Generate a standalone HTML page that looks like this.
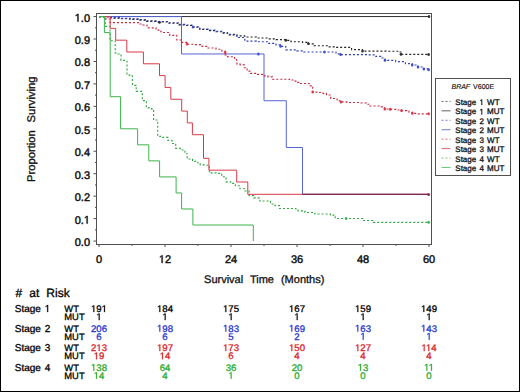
<!DOCTYPE html>
<html><head><meta charset="utf-8"><style>
html,body{margin:0;padding:0;background:#fff;}
body{width:520px;height:392px;overflow:hidden;position:relative;}
.frame{position:absolute;left:0;top:0;width:518px;height:390px;border:1px solid #000;}
svg{position:absolute;left:0;top:0;font-family:"Liberation Sans",sans-serif;text-rendering:geometricPrecision;}
</style></head><body><div class="frame"></div>
<svg width="520" height="392" viewBox="0 0 520 392">
<rect x="96.5" y="13.5" width="335" height="231" fill="none" stroke="#505050" stroke-width="1"/>
<path d="M93.5,241.05H96.5 M95,229.83H96.5 M93.5,218.60H96.5 M95,207.38H96.5 M93.5,196.15H96.5 M95,184.93H96.5 M93.5,173.70H96.5 M95,162.48H96.5 M93.5,151.25H96.5 M95,140.03H96.5 M93.5,128.80H96.5 M95,117.58H96.5 M93.5,106.35H96.5 M95,95.12H96.5 M93.5,83.90H96.5 M95,72.68H96.5 M93.5,61.45H96.5 M95,50.22H96.5 M93.5,39.00H96.5 M95,27.78H96.5 M93.5,16.55H96.5 M99.0,244.5V247 M132.0,244.5V246 M165.0,244.5V247 M198.0,244.5V246 M231.0,244.5V247 M264.0,244.5V246 M297.0,244.5V247 M330.0,244.5V246 M363.0,244.5V247 M396.0,244.5V246 M429.0,244.5V247" stroke="#505050" stroke-width="1" fill="none"/>
<text x="74.71" y="246.05" font-size="11" fill="#111" stroke="#111" stroke-width="0.45">0.0</text><text x="74.71" y="223.60" font-size="11" fill="#111" stroke="#111" stroke-width="0.45">0.</text><path d="M515,0L515,-1237L197,-1010L197,-1180L530,-1409L696,-1409L696,0Z" transform="translate(83.88,223.60) scale(0.005371)" fill="#111" stroke="#111" stroke-width="83.8"/><text x="74.71" y="201.15" font-size="11" fill="#111" stroke="#111" stroke-width="0.45">0.2</text><text x="74.71" y="178.70" font-size="11" fill="#111" stroke="#111" stroke-width="0.45">0.3</text><text x="74.71" y="156.25" font-size="11" fill="#111" stroke="#111" stroke-width="0.45">0.4</text><text x="74.71" y="133.80" font-size="11" fill="#111" stroke="#111" stroke-width="0.45">0.5</text><text x="74.71" y="111.35" font-size="11" fill="#111" stroke="#111" stroke-width="0.45">0.6</text><text x="74.71" y="88.90" font-size="11" fill="#111" stroke="#111" stroke-width="0.45">0.7</text><text x="74.71" y="66.45" font-size="11" fill="#111" stroke="#111" stroke-width="0.45">0.8</text><text x="74.71" y="44.00" font-size="11" fill="#111" stroke="#111" stroke-width="0.45">0.9</text><path d="M515,0L515,-1237L197,-1010L197,-1180L530,-1409L696,-1409L696,0Z" transform="translate(74.71,21.55) scale(0.005371)" fill="#111" stroke="#111" stroke-width="83.8"/><text x="80.83" y="21.55" font-size="11" fill="#111" stroke="#111" stroke-width="0.45">.0</text><text x="95.94" y="263.00" font-size="11" fill="#111" stroke="#111" stroke-width="0.45">0</text><path d="M515,0L515,-1237L197,-1010L197,-1180L530,-1409L696,-1409L696,0Z" transform="translate(158.88,263.00) scale(0.005371)" fill="#111" stroke="#111" stroke-width="83.8"/><text x="165.00" y="263.00" font-size="11" fill="#111" stroke="#111" stroke-width="0.45">2</text><text x="224.88" y="263.00" font-size="11" fill="#111" stroke="#111" stroke-width="0.45">24</text><text x="290.88" y="263.00" font-size="11" fill="#111" stroke="#111" stroke-width="0.45">36</text><text x="356.88" y="263.00" font-size="11" fill="#111" stroke="#111" stroke-width="0.45">48</text><text x="422.88" y="263.00" font-size="11" fill="#111" stroke="#111" stroke-width="0.45">60</text>
<text x="204.06" y="282.60" font-size="11" fill="#111" stroke="#111" stroke-width="0.3">Survival</text><text x="249.95" y="282.60" font-size="11" fill="#111" stroke="#111" stroke-width="0.3">Time</text><text x="280.94" y="282.60" font-size="11" fill="#111" stroke="#111" stroke-width="0.3">(Months)</text>
<g transform="translate(34.8,129.2) rotate(-90)"><text x="-52.72" y="0.00" font-size="11.2" fill="#111" stroke="#111" stroke-width="0.3">Proportion</text><text x="6.66" y="0.00" font-size="11.2" fill="#111" stroke="#111" stroke-width="0.3">Surviving</text></g>
<path d="M99.0,16.55 H110.0 V16.55 H111.0 V18.10 H120.0 V18.70 H130.0 V19.30 H140.0 V20.10 H145.4 V21.40 H156.0 V22.00 H167.5 V23.20 H179.0 V24.90 H186.0 V25.50 H193.0 V27.20 H199.8 V29.50 H208.0 V30.60 H216.0 V31.70 H222.0 V33.10 H227.5 V34.90 H236.8 V35.90 H244.8 V37.00 H256.4 V38.00 H268.0 V38.80 H276.0 V39.60 H285.8 V40.30 H291.0 V41.70 H302.5 V42.30 H308.3 V43.80 H314.0 V45.70 H328.0 V46.90 H336.0 V47.40 H351.6 V47.40 H351.6 V49.60 H362.5 V51.10 H386.0 V51.20 H398.6 V52.00 H401.0 V54.30 H428.6 V54.50" stroke="#222222" stroke-width="1.15" fill="none" stroke-dasharray="2,2" stroke-dashoffset="0"/>
<path d="M99,16.55 H429" stroke="#303030" stroke-width="1" fill="none"/>
<path d="M99.0,16.55 H110.0 V16.55 H111.0 V17.60 H120.0 V18.20 H130.0 V18.80 H140.0 V19.60 H145.4 V20.90 H156.0 V21.50 H167.5 V22.70 H179.0 V24.40 H186.0 V25.00 H193.0 V26.70 H199.8 V29.00 H208.0 V30.10 H216.0 V31.20 H222.0 V32.60 H227.5 V34.40 H236.8 V37.50 H244.8 V41.10 H256.4 V41.70 H268.0 V43.40 H276.0 V44.90 H280.6 V46.30 H285.8 V49.80 H296.8 V50.90 H303.7 V52.00 H324.4 V52.00 H336.0 V53.80 H340.6 V54.60 H367.0 V54.90 H374.0 V56.30 H382.0 V58.00 H385.0 V60.30 H395.7 V61.60 H405.4 V63.60 H412.2 V65.00 H418.0 V67.00 H423.8 V68.90 H428.6 V69.70" stroke="#3040b4" stroke-width="1.15" fill="none" stroke-dasharray="2,2" stroke-dashoffset="0"/>
<path d="M99,16.55 H181.5 V53.97 H264 V100.74 H286.3 V147.51 H302.5 V194.40 H429" stroke="#5565d4" stroke-width="1" fill="none"/>
<path d="M99.0,16.55 H105.5 V16.55 H106.0 V19.00 H110.0 V22.60 H137.3 V22.60 H140.0 V24.00 H143.0 V25.00 H147.0 V27.80 H156.0 V30.10 H160.8 V31.70 H163.0 V32.50 H169.8 V35.30 H176.8 V40.00 H181.4 V42.30 H186.6 V44.20 H194.0 V44.60 H202.0 V46.30 H208.0 V48.00 H216.0 V49.20 H221.8 V51.00 H225.2 V55.00 H227.5 V56.70 H234.5 V58.20 H236.5 V60.20 H237.0 V64.20 H240.2 V64.80 H244.3 V67.70 H247.1 V71.10 H250.6 V73.40 H257.5 V74.40 H263.3 V75.80 H267.9 V76.90 H272.5 V79.20 H289.6 V80.00 H293.0 V81.10 H297.1 V82.30 H298.8 V83.50 H306.9 V83.50 H309.2 V85.80 H312.7 V86.30 H312.7 V92.10 H318.4 V92.50 H323.0 V93.30 H326.5 V95.00 H330.0 V96.70 H330.8 V98.50 H335.4 V99.00 H337.1 V100.80 H341.1 V101.90 H346.9 V102.50 H359.6 V103.00 H366.5 V104.20 H370.0 V106.00 H379.2 V106.80 H382.7 V107.70 H384.8 V109.00 H390.2 V109.30 H396.0 V110.00 H401.5 V110.60 H406.9 V111.10 H409.0 V112.20 H412.3 V113.30 H417.7 V113.80 H428.6 V113.80" stroke="#c42a40" stroke-width="1.15" fill="none" stroke-dasharray="2,2" stroke-dashoffset="0"/>
<path d="M99,16.55 H110.2 V28.37 H115.7 V40.18 H126.8 V52.00 H143.4 V63.81 H159.5 V75.63 H165.1 V87.44 H170.8 V99.26 H181.7 V111.08 H187.3 V122.89 H192.4 V134.71 H203.5 V158.34 H208.9 V170.16 H236.7 V181.97 H247.8 V194.30 H429" stroke="#d83a48" stroke-width="1" fill="none"/>
<path d="M99.0,16.55 H105.3 V16.55 H105.3 V26.30 H110.0 V26.30 H110.0 V40.70 H115.2 V41.60 H115.2 V53.00 H117.0 V54.00 H121.0 V55.00 H121.0 V60.40 H125.9 V61.20 H127.0 V75.10 H132.1 V76.00 H132.5 V85.30 H136.2 V86.30 H136.2 V91.40 H142.3 V93.50 H142.3 V100.60 H146.4 V101.60 H146.4 V107.80 H151.5 V108.80 H153.6 V110.80 H153.6 V120.00 H157.7 V121.00 H157.7 V136.30 H160.7 V137.30 H167.9 V140.40 H172.0 V143.50 H175.7 V145.30 H175.7 V148.40 H180.3 V150.00 H184.9 V153.70 H187.2 V159.00 H192.6 V161.40 H197.9 V163.00 H200.2 V164.90 H205.6 V165.20 H209.4 V172.90 H218.6 V173.30 H221.7 V176.70 H226.1 V181.80 H230.7 V183.40 H235.3 V185.70 H239.9 V188.70 H244.5 V191.00 H249.1 V195.60 H253.7 V197.90 H259.8 V201.00 H269.0 V201.30 H270.5 V204.00 H275.1 V205.60 H279.6 V205.60 H279.6 V208.50 H295.8 V209.00 H298.0 V210.80 H302.7 V211.30 H305.0 V212.50 H311.9 V212.50 H314.8 V214.00 H328.0 V214.00 H330.4 V215.10 H335.2 V215.60 H335.2 V218.50 H362.9 V219.00 H362.9 V220.50 H373.3 V220.50 H373.3 V222.30 H428.6 V222.30" stroke="#34a444" stroke-width="1.15" fill="none" stroke-dasharray="2,2" stroke-dashoffset="0"/>
<path d="M99,16.55 H104.4 V32.59 H110.2 V96.73 H120.6 V128.80 H137.6 V144.84 H148.8 V160.87 H159.6 V176.91 H176.1 V192.94 H181.6 V208.98 H192.9 V225.01 H253.3 V241.05" stroke="#3cb44a" stroke-width="1" fill="none"/>
<path d="M302.5,194.4H429" stroke="#86294f" stroke-width="1.2" fill="none"/>
<ellipse cx="429" cy="16.55" rx="1.3" ry="1.5" fill="#303030"/><ellipse cx="159.5" cy="22.3" rx="1.3" ry="1.5" fill="#303030"/><ellipse cx="285.8" cy="40.3" rx="1.3" ry="1.5" fill="#303030"/><ellipse cx="308.3" cy="43.6" rx="1.3" ry="1.5" fill="#303030"/><ellipse cx="362.5" cy="51.1" rx="1.3" ry="1.5" fill="#303030"/><ellipse cx="401" cy="54.3" rx="1.3" ry="1.5" fill="#303030"/><ellipse cx="428.6" cy="54.5" rx="1.3" ry="1.5" fill="#303030"/>
<ellipse cx="258.4" cy="54.1" rx="1.3" ry="1.5" fill="#4050c8"/><ellipse cx="193" cy="27" rx="1.3" ry="1.5" fill="#4050c8"/><ellipse cx="280.6" cy="46.3" rx="1.3" ry="1.5" fill="#4050c8"/><ellipse cx="324.4" cy="52" rx="1.3" ry="1.5" fill="#4050c8"/><ellipse cx="340.6" cy="54.6" rx="1.3" ry="1.5" fill="#4050c8"/><ellipse cx="385" cy="60.3" rx="1.3" ry="1.5" fill="#4050c8"/><ellipse cx="412.2" cy="65" rx="1.3" ry="1.5" fill="#4050c8"/><ellipse cx="418" cy="67" rx="1.3" ry="1.5" fill="#4050c8"/><ellipse cx="423.8" cy="68.9" rx="1.3" ry="1.5" fill="#4050c8"/><ellipse cx="428.6" cy="69.7" rx="1.3" ry="1.5" fill="#4050c8"/>
<ellipse cx="187" cy="44" rx="1.3" ry="1.5" fill="#d83a48"/><ellipse cx="225.2" cy="52.5" rx="1.3" ry="1.5" fill="#d83a48"/><ellipse cx="312.7" cy="92.1" rx="1.3" ry="1.5" fill="#d83a48"/><ellipse cx="341.1" cy="101.9" rx="1.3" ry="1.5" fill="#d83a48"/><ellipse cx="384.8" cy="109" rx="1.3" ry="1.5" fill="#d83a48"/><ellipse cx="390.2" cy="109.3" rx="1.3" ry="1.5" fill="#d83a48"/><ellipse cx="401.5" cy="110.6" rx="1.3" ry="1.5" fill="#d83a48"/><ellipse cx="412.3" cy="113.3" rx="1.3" ry="1.5" fill="#d83a48"/><ellipse cx="428.6" cy="113.8" rx="1.3" ry="1.5" fill="#d83a48"/>
<ellipse cx="346.1" cy="218.5" rx="1.3" ry="1.5" fill="#3cb44a"/><ellipse cx="428.6" cy="222.3" rx="1.3" ry="1.5" fill="#3cb44a"/>
<ellipse cx="428.6" cy="194.4" rx="1.3" ry="1.5" fill="#86294f"/>
<rect x="435.5" y="78.5" width="75" height="97" fill="#fff" stroke="#505050" stroke-width="1"/><text x="472.8" y="89.1" font-size="7" fill="#111" stroke="#111" stroke-width="0.15" text-anchor="middle" word-spacing="1"><tspan font-style="italic">BRAF</tspan> V600E</text><path d="M441.5,101.40H450.5" stroke="#303030" stroke-width="1" stroke-opacity="0.75" stroke-dasharray="2,2"/><text x="455.30" y="105.00" font-size="8" fill="#111" stroke="#111" stroke-width="0.3">Stage</text><path d="M515,0L515,-1237L197,-1010L197,-1180L530,-1409L696,-1409L696,0Z" transform="translate(479.43,105.00) scale(0.003906)" fill="#111" stroke="#111" stroke-width="76.8"/><text x="487.10" y="105.00" font-size="8" fill="#111" stroke="#111" stroke-width="0.3">WT</text><path d="M441.5,110.84H450.5" stroke="#303030" stroke-width="1" stroke-opacity="0.75"/><text x="455.30" y="114.44" font-size="8" fill="#111" stroke="#111" stroke-width="0.3">Stage</text><path d="M515,0L515,-1237L197,-1010L197,-1180L530,-1409L696,-1409L696,0Z" transform="translate(479.43,114.44) scale(0.003906)" fill="#111" stroke="#111" stroke-width="76.8"/><text x="487.10" y="114.44" font-size="8" fill="#111" stroke="#111" stroke-width="0.3">MUT</text><path d="M441.5,120.28H450.5" stroke="#4050c8" stroke-width="1" stroke-opacity="0.75" stroke-dasharray="2,2"/><text x="455.30" y="123.88" font-size="8" fill="#111" stroke="#111" stroke-width="0.3">Stage</text><text x="479.43" y="123.88" font-size="8" fill="#111" stroke="#111" stroke-width="0.3">2</text><text x="487.10" y="123.88" font-size="8" fill="#111" stroke="#111" stroke-width="0.3">WT</text><path d="M441.5,129.72H450.5" stroke="#4050c8" stroke-width="1" stroke-opacity="0.75"/><text x="455.30" y="133.32" font-size="8" fill="#111" stroke="#111" stroke-width="0.3">Stage</text><text x="479.43" y="133.32" font-size="8" fill="#111" stroke="#111" stroke-width="0.3">2</text><text x="487.10" y="133.32" font-size="8" fill="#111" stroke="#111" stroke-width="0.3">MUT</text><path d="M441.5,139.16H450.5" stroke="#d83a48" stroke-width="1" stroke-opacity="0.75" stroke-dasharray="2,2"/><text x="455.30" y="142.76" font-size="8" fill="#111" stroke="#111" stroke-width="0.3">Stage</text><text x="479.43" y="142.76" font-size="8" fill="#111" stroke="#111" stroke-width="0.3">3</text><text x="487.10" y="142.76" font-size="8" fill="#111" stroke="#111" stroke-width="0.3">WT</text><path d="M441.5,148.60H450.5" stroke="#d83a48" stroke-width="1" stroke-opacity="0.75"/><text x="455.30" y="152.20" font-size="8" fill="#111" stroke="#111" stroke-width="0.3">Stage</text><text x="479.43" y="152.20" font-size="8" fill="#111" stroke="#111" stroke-width="0.3">3</text><text x="487.10" y="152.20" font-size="8" fill="#111" stroke="#111" stroke-width="0.3">MUT</text><path d="M441.5,158.04H450.5" stroke="#3cb44a" stroke-width="1" stroke-opacity="0.75" stroke-dasharray="2,2"/><text x="455.30" y="161.64" font-size="8" fill="#111" stroke="#111" stroke-width="0.3">Stage</text><text x="479.43" y="161.64" font-size="8" fill="#111" stroke="#111" stroke-width="0.3">4</text><text x="487.10" y="161.64" font-size="8" fill="#111" stroke="#111" stroke-width="0.3">WT</text><path d="M441.5,167.48H450.5" stroke="#3cb44a" stroke-width="1" stroke-opacity="0.75"/><text x="455.30" y="171.08" font-size="8" fill="#111" stroke="#111" stroke-width="0.3">Stage</text><text x="479.43" y="171.08" font-size="8" fill="#111" stroke="#111" stroke-width="0.3">4</text><text x="487.10" y="171.08" font-size="8" fill="#111" stroke="#111" stroke-width="0.3">MUT</text>
<text x="15.60" y="297.40" font-size="12" fill="#000" stroke="#000" stroke-width="0.3">#</text><text x="29.31" y="297.40" font-size="12" fill="#000" stroke="#000" stroke-width="0.3">at</text><text x="46.35" y="297.40" font-size="12" fill="#000" stroke="#000" stroke-width="0.3">Risk</text><text x="14.80" y="312.00" font-size="10" fill="#000" stroke="#000" stroke-width="0.3">Stage</text><path d="M515,0L515,-1237L197,-1010L197,-1180L530,-1409L696,-1409L696,0Z" transform="translate(44.71,312.00) scale(0.004883)" fill="#000" stroke="#000" stroke-width="61.4"/><text x="64.30" y="312.00" font-size="9.4" fill="#000" stroke="#000" stroke-width="0.3">WT</text><text x="64.30" y="320.10" font-size="9.4" fill="#000" stroke="#000" stroke-width="0.3">MUT</text><path d="M515,0L515,-1237L197,-1010L197,-1180L530,-1409L696,-1409L696,0Z" transform="translate(90.99,312.00) scale(0.004687)" fill="#000" stroke="#000" stroke-width="64.0"/><text x="96.33" y="312.00" font-size="9.6" fill="#000" stroke="#000" stroke-width="0.3">9</text><path d="M515,0L515,-1237L197,-1010L197,-1180L530,-1409L696,-1409L696,0Z" transform="translate(101.67,312.00) scale(0.004687)" fill="#000" stroke="#000" stroke-width="64.0"/><path d="M515,0L515,-1237L197,-1010L197,-1180L530,-1409L696,-1409L696,0Z" transform="translate(96.33,320.10) scale(0.004687)" fill="#000" stroke="#000" stroke-width="64.0"/><path d="M515,0L515,-1237L197,-1010L197,-1180L530,-1409L696,-1409L696,0Z" transform="translate(156.99,312.00) scale(0.004687)" fill="#000" stroke="#000" stroke-width="64.0"/><text x="162.33" y="312.00" font-size="9.6" fill="#000" stroke="#000" stroke-width="0.3">84</text><path d="M515,0L515,-1237L197,-1010L197,-1180L530,-1409L696,-1409L696,0Z" transform="translate(162.33,320.10) scale(0.004687)" fill="#000" stroke="#000" stroke-width="64.0"/><path d="M515,0L515,-1237L197,-1010L197,-1180L530,-1409L696,-1409L696,0Z" transform="translate(222.99,312.00) scale(0.004687)" fill="#000" stroke="#000" stroke-width="64.0"/><text x="228.33" y="312.00" font-size="9.6" fill="#000" stroke="#000" stroke-width="0.3">75</text><path d="M515,0L515,-1237L197,-1010L197,-1180L530,-1409L696,-1409L696,0Z" transform="translate(228.33,320.10) scale(0.004687)" fill="#000" stroke="#000" stroke-width="64.0"/><path d="M515,0L515,-1237L197,-1010L197,-1180L530,-1409L696,-1409L696,0Z" transform="translate(288.99,312.00) scale(0.004687)" fill="#000" stroke="#000" stroke-width="64.0"/><text x="294.33" y="312.00" font-size="9.6" fill="#000" stroke="#000" stroke-width="0.3">67</text><path d="M515,0L515,-1237L197,-1010L197,-1180L530,-1409L696,-1409L696,0Z" transform="translate(294.33,320.10) scale(0.004687)" fill="#000" stroke="#000" stroke-width="64.0"/><path d="M515,0L515,-1237L197,-1010L197,-1180L530,-1409L696,-1409L696,0Z" transform="translate(354.99,312.00) scale(0.004687)" fill="#000" stroke="#000" stroke-width="64.0"/><text x="360.33" y="312.00" font-size="9.6" fill="#000" stroke="#000" stroke-width="0.3">59</text><path d="M515,0L515,-1237L197,-1010L197,-1180L530,-1409L696,-1409L696,0Z" transform="translate(360.33,320.10) scale(0.004687)" fill="#000" stroke="#000" stroke-width="64.0"/><path d="M515,0L515,-1237L197,-1010L197,-1180L530,-1409L696,-1409L696,0Z" transform="translate(420.99,312.00) scale(0.004687)" fill="#000" stroke="#000" stroke-width="64.0"/><text x="426.33" y="312.00" font-size="9.6" fill="#000" stroke="#000" stroke-width="0.3">49</text><path d="M515,0L515,-1237L197,-1010L197,-1180L530,-1409L696,-1409L696,0Z" transform="translate(426.33,320.10) scale(0.004687)" fill="#000" stroke="#000" stroke-width="64.0"/><text x="14.80" y="331.55" font-size="10" fill="#000" stroke="#000" stroke-width="0.3">Stage</text><text x="44.71" y="331.55" font-size="10" fill="#000" stroke="#000" stroke-width="0.3">2</text><text x="64.30" y="331.55" font-size="9.4" fill="#000" stroke="#000" stroke-width="0.3">WT</text><text x="64.30" y="339.65" font-size="9.4" fill="#000" stroke="#000" stroke-width="0.3">MUT</text><text x="90.99" y="331.55" font-size="9.6" fill="#1f36cc" stroke="#1f36cc" stroke-width="0.3">206</text><text x="96.33" y="339.65" font-size="9.6" fill="#1f36cc" stroke="#1f36cc" stroke-width="0.3">6</text><path d="M515,0L515,-1237L197,-1010L197,-1180L530,-1409L696,-1409L696,0Z" transform="translate(156.99,331.55) scale(0.004687)" fill="#1f36cc" stroke="#1f36cc" stroke-width="64.0"/><text x="162.33" y="331.55" font-size="9.6" fill="#1f36cc" stroke="#1f36cc" stroke-width="0.3">98</text><text x="162.33" y="339.65" font-size="9.6" fill="#1f36cc" stroke="#1f36cc" stroke-width="0.3">6</text><path d="M515,0L515,-1237L197,-1010L197,-1180L530,-1409L696,-1409L696,0Z" transform="translate(222.99,331.55) scale(0.004687)" fill="#1f36cc" stroke="#1f36cc" stroke-width="64.0"/><text x="228.33" y="331.55" font-size="9.6" fill="#1f36cc" stroke="#1f36cc" stroke-width="0.3">83</text><text x="228.33" y="339.65" font-size="9.6" fill="#1f36cc" stroke="#1f36cc" stroke-width="0.3">5</text><path d="M515,0L515,-1237L197,-1010L197,-1180L530,-1409L696,-1409L696,0Z" transform="translate(288.99,331.55) scale(0.004687)" fill="#1f36cc" stroke="#1f36cc" stroke-width="64.0"/><text x="294.33" y="331.55" font-size="9.6" fill="#1f36cc" stroke="#1f36cc" stroke-width="0.3">69</text><text x="294.33" y="339.65" font-size="9.6" fill="#1f36cc" stroke="#1f36cc" stroke-width="0.3">2</text><path d="M515,0L515,-1237L197,-1010L197,-1180L530,-1409L696,-1409L696,0Z" transform="translate(354.99,331.55) scale(0.004687)" fill="#1f36cc" stroke="#1f36cc" stroke-width="64.0"/><text x="360.33" y="331.55" font-size="9.6" fill="#1f36cc" stroke="#1f36cc" stroke-width="0.3">63</text><path d="M515,0L515,-1237L197,-1010L197,-1180L530,-1409L696,-1409L696,0Z" transform="translate(360.33,339.65) scale(0.004687)" fill="#1f36cc" stroke="#1f36cc" stroke-width="64.0"/><path d="M515,0L515,-1237L197,-1010L197,-1180L530,-1409L696,-1409L696,0Z" transform="translate(420.99,331.55) scale(0.004687)" fill="#1f36cc" stroke="#1f36cc" stroke-width="64.0"/><text x="426.33" y="331.55" font-size="9.6" fill="#1f36cc" stroke="#1f36cc" stroke-width="0.3">43</text><path d="M515,0L515,-1237L197,-1010L197,-1180L530,-1409L696,-1409L696,0Z" transform="translate(426.33,339.65) scale(0.004687)" fill="#1f36cc" stroke="#1f36cc" stroke-width="64.0"/><text x="14.80" y="351.10" font-size="10" fill="#000" stroke="#000" stroke-width="0.3">Stage</text><text x="44.71" y="351.10" font-size="10" fill="#000" stroke="#000" stroke-width="0.3">3</text><text x="64.30" y="351.10" font-size="9.4" fill="#000" stroke="#000" stroke-width="0.3">WT</text><text x="64.30" y="359.20" font-size="9.4" fill="#000" stroke="#000" stroke-width="0.3">MUT</text><text x="90.99" y="351.10" font-size="9.6" fill="#d81e2a" stroke="#d81e2a" stroke-width="0.3">2</text><path d="M515,0L515,-1237L197,-1010L197,-1180L530,-1409L696,-1409L696,0Z" transform="translate(96.33,351.10) scale(0.004687)" fill="#d81e2a" stroke="#d81e2a" stroke-width="64.0"/><text x="101.67" y="351.10" font-size="9.6" fill="#d81e2a" stroke="#d81e2a" stroke-width="0.3">3</text><path d="M515,0L515,-1237L197,-1010L197,-1180L530,-1409L696,-1409L696,0Z" transform="translate(93.66,359.20) scale(0.004687)" fill="#d81e2a" stroke="#d81e2a" stroke-width="64.0"/><text x="99.00" y="359.20" font-size="9.6" fill="#d81e2a" stroke="#d81e2a" stroke-width="0.3">9</text><path d="M515,0L515,-1237L197,-1010L197,-1180L530,-1409L696,-1409L696,0Z" transform="translate(156.99,351.10) scale(0.004687)" fill="#d81e2a" stroke="#d81e2a" stroke-width="64.0"/><text x="162.33" y="351.10" font-size="9.6" fill="#d81e2a" stroke="#d81e2a" stroke-width="0.3">97</text><path d="M515,0L515,-1237L197,-1010L197,-1180L530,-1409L696,-1409L696,0Z" transform="translate(159.66,359.20) scale(0.004687)" fill="#d81e2a" stroke="#d81e2a" stroke-width="64.0"/><text x="165.00" y="359.20" font-size="9.6" fill="#d81e2a" stroke="#d81e2a" stroke-width="0.3">4</text><path d="M515,0L515,-1237L197,-1010L197,-1180L530,-1409L696,-1409L696,0Z" transform="translate(222.99,351.10) scale(0.004687)" fill="#d81e2a" stroke="#d81e2a" stroke-width="64.0"/><text x="228.33" y="351.10" font-size="9.6" fill="#d81e2a" stroke="#d81e2a" stroke-width="0.3">73</text><text x="228.33" y="359.20" font-size="9.6" fill="#d81e2a" stroke="#d81e2a" stroke-width="0.3">6</text><path d="M515,0L515,-1237L197,-1010L197,-1180L530,-1409L696,-1409L696,0Z" transform="translate(288.99,351.10) scale(0.004687)" fill="#d81e2a" stroke="#d81e2a" stroke-width="64.0"/><text x="294.33" y="351.10" font-size="9.6" fill="#d81e2a" stroke="#d81e2a" stroke-width="0.3">50</text><text x="294.33" y="359.20" font-size="9.6" fill="#d81e2a" stroke="#d81e2a" stroke-width="0.3">4</text><path d="M515,0L515,-1237L197,-1010L197,-1180L530,-1409L696,-1409L696,0Z" transform="translate(354.99,351.10) scale(0.004687)" fill="#d81e2a" stroke="#d81e2a" stroke-width="64.0"/><text x="360.33" y="351.10" font-size="9.6" fill="#d81e2a" stroke="#d81e2a" stroke-width="0.3">27</text><text x="360.33" y="359.20" font-size="9.6" fill="#d81e2a" stroke="#d81e2a" stroke-width="0.3">4</text><path d="M515,0L515,-1237L197,-1010L197,-1180L530,-1409L696,-1409L696,0Z" transform="translate(421.35,351.10) scale(0.004687)" fill="#d81e2a" stroke="#d81e2a" stroke-width="64.0"/><path d="M515,0L515,-1237L197,-1010L197,-1180L530,-1409L696,-1409L696,0Z" transform="translate(425.97,351.10) scale(0.004687)" fill="#d81e2a" stroke="#d81e2a" stroke-width="64.0"/><text x="431.31" y="351.10" font-size="9.6" fill="#d81e2a" stroke="#d81e2a" stroke-width="0.3">4</text><text x="426.33" y="359.20" font-size="9.6" fill="#d81e2a" stroke="#d81e2a" stroke-width="0.3">4</text><text x="14.80" y="370.65" font-size="10" fill="#000" stroke="#000" stroke-width="0.3">Stage</text><text x="44.71" y="370.65" font-size="10" fill="#000" stroke="#000" stroke-width="0.3">4</text><text x="64.30" y="370.65" font-size="9.4" fill="#000" stroke="#000" stroke-width="0.3">WT</text><text x="64.30" y="378.75" font-size="9.4" fill="#000" stroke="#000" stroke-width="0.3">MUT</text><path d="M515,0L515,-1237L197,-1010L197,-1180L530,-1409L696,-1409L696,0Z" transform="translate(90.99,370.65) scale(0.004687)" fill="#28aa2c" stroke="#28aa2c" stroke-width="64.0"/><text x="96.33" y="370.65" font-size="9.6" fill="#28aa2c" stroke="#28aa2c" stroke-width="0.3">38</text><path d="M515,0L515,-1237L197,-1010L197,-1180L530,-1409L696,-1409L696,0Z" transform="translate(93.66,378.75) scale(0.004687)" fill="#28aa2c" stroke="#28aa2c" stroke-width="64.0"/><text x="99.00" y="378.75" font-size="9.6" fill="#28aa2c" stroke="#28aa2c" stroke-width="0.3">4</text><text x="159.66" y="370.65" font-size="9.6" fill="#28aa2c" stroke="#28aa2c" stroke-width="0.3">64</text><text x="162.33" y="378.75" font-size="9.6" fill="#28aa2c" stroke="#28aa2c" stroke-width="0.3">4</text><text x="225.66" y="370.65" font-size="9.6" fill="#28aa2c" stroke="#28aa2c" stroke-width="0.3">36</text><path d="M515,0L515,-1237L197,-1010L197,-1180L530,-1409L696,-1409L696,0Z" transform="translate(228.33,378.75) scale(0.004687)" fill="#28aa2c" stroke="#28aa2c" stroke-width="64.0"/><text x="291.66" y="370.65" font-size="9.6" fill="#28aa2c" stroke="#28aa2c" stroke-width="0.3">20</text><text x="294.33" y="378.75" font-size="9.6" fill="#28aa2c" stroke="#28aa2c" stroke-width="0.3">0</text><path d="M515,0L515,-1237L197,-1010L197,-1180L530,-1409L696,-1409L696,0Z" transform="translate(357.66,370.65) scale(0.004687)" fill="#28aa2c" stroke="#28aa2c" stroke-width="64.0"/><text x="363.00" y="370.65" font-size="9.6" fill="#28aa2c" stroke="#28aa2c" stroke-width="0.3">3</text><text x="360.33" y="378.75" font-size="9.6" fill="#28aa2c" stroke="#28aa2c" stroke-width="0.3">0</text><path d="M515,0L515,-1237L197,-1010L197,-1180L530,-1409L696,-1409L696,0Z" transform="translate(424.02,370.65) scale(0.004687)" fill="#28aa2c" stroke="#28aa2c" stroke-width="64.0"/><path d="M515,0L515,-1237L197,-1010L197,-1180L530,-1409L696,-1409L696,0Z" transform="translate(428.64,370.65) scale(0.004687)" fill="#28aa2c" stroke="#28aa2c" stroke-width="64.0"/><text x="426.33" y="378.75" font-size="9.6" fill="#28aa2c" stroke="#28aa2c" stroke-width="0.3">0</text>
</svg></body></html>
